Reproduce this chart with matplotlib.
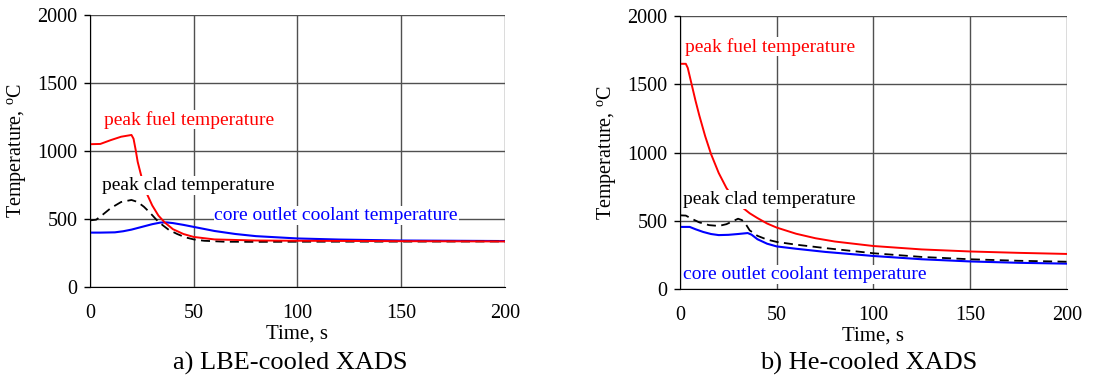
import matplotlib
matplotlib.use('Agg')
import matplotlib.pyplot as plt

plt.rcParams['font.family'] = ['Liberation Serif', 'DejaVu Serif']
plt.rcParams['mathtext.fontset'] = 'custom'
plt.rcParams['mathtext.rm'] = 'Liberation Serif'

# a) LBE-cooled XADS
lbe_t_fuel = [0, 5, 10, 15, 20, 21, 22, 23, 25, 27, 30, 33, 36, 40, 45, 50, 60, 80, 100, 150, 200]
lbe_fuel = [1050, 1052, 1080, 1105, 1118, 1090, 1010, 920, 800, 700, 600, 525, 475, 425, 390, 368, 350, 342, 340, 337, 335]
lbe_t_clad = [0, 3, 6, 10, 15, 20, 23, 26, 29, 32, 35, 38, 42, 46, 50, 55, 65, 80, 100, 150, 200]
lbe_clad = [490, 495, 530, 580, 625, 640, 625, 590, 545, 495, 455, 420, 390, 365, 350, 340, 333, 332, 333, 334, 335]
lbe_t_cool = [0, 5, 12, 16, 20, 25, 30, 34, 37, 40, 45, 50, 60, 70, 80, 100, 120, 150, 200]
lbe_cool = [400, 400, 402, 410, 422, 442, 462, 474, 475, 470, 457, 442, 412, 390, 374, 357, 349, 342, 338]

# b) He-cooled XADS
he_t_fuel = [0, 3, 4, 6, 8, 10, 13, 16, 20, 24, 28, 32, 36, 40, 45, 50, 60, 70, 80, 100, 125, 150, 175, 200]
he_fuel = [1650, 1650, 1620, 1500, 1380, 1270, 1120, 990, 850, 740, 660, 600, 555, 520, 480, 450, 405, 372, 348, 315, 290, 275, 265, 257]
he_t_clad = [0, 3, 6, 10, 15, 20, 24, 27, 30, 32, 34, 36, 40, 45, 50, 60, 75, 100, 125, 150, 175, 200]
he_clad = [540, 538, 515, 488, 468, 462, 475, 495, 515, 505, 475, 430, 390, 362, 345, 325, 300, 262, 235, 218, 207, 200]
he_t_cool = [0, 5, 8, 12, 16, 20, 25, 30, 35, 37, 40, 45, 50, 60, 75, 100, 125, 150, 175, 200]
he_cool = [455, 455, 438, 418, 403, 395, 397, 403, 410, 398, 365, 332, 312, 295, 272, 242, 218, 202, 192, 186]

xticks = [0, 50, 100, 150, 200]
yticks = [0, 500, 1000, 1500, 2000]

fig = plt.figure(figsize=(11.19, 3.78), dpi=100)
ax1 = fig.add_axes([0.0804, 0.2407, 0.3709, 0.7196])
ax2 = fig.add_axes([0.6077, 0.2354, 0.3458, 0.7222])

box = dict(facecolor='white', edgecolor='none', pad=0.5)
fs = 14

for ax in (ax1, ax2):
    ax.set_xlim(0, 200)
    ax.set_ylim(0, 2000)
    ax.set_xticks(xticks)
    ax.set_yticks(yticks)
    ax.grid(True, color='#505050', linewidth=1.0)
    ax.set_axisbelow(True)
    for s in ('top', 'right'):
        ax.spines[s].set_visible(False)
    ax.tick_params(axis='y', direction='out', length=4, width=1, labelsize=14.5, pad=5)
    ax.tick_params(axis='x', direction='out', length=0, labelsize=14.5, pad=12)
    ax.set_xlabel('Time, s', fontsize=15, labelpad=1)
    ax.set_ylabel(r'Temperature, $^{\rm o}$C', fontsize=14.5, labelpad=6)

ax1.plot(lbe_t_cool, lbe_cool, color='blue', lw=1.5)
ax1.plot(lbe_t_clad, lbe_clad, color='black', lw=1.3, ls=(0, (5, 3)))
ax1.plot(lbe_t_fuel, lbe_fuel, color='red', lw=1.4)
ax1.text(7, 1230, 'peak fuel temperature', color='red', fontsize=fs, va='center', bbox=box)
ax1.text(6, 745, 'peak clad temperature', color='black', fontsize=fs, va='center', bbox=box)
ax1.text(60, 525, 'core outlet coolant temperature', color='blue', fontsize=fs, va='center', bbox=box)

ax2.plot(he_t_fuel, he_fuel, color='red', lw=1.4)
ax2.plot(he_t_cool, he_cool, color='blue', lw=1.5)
ax2.plot(he_t_clad, he_clad, color='black', lw=1.3, ls=(0, (5, 3)))
ax2.text(2.5, 1775, 'peak fuel temperature', color='red', fontsize=fs, va='center', bbox=box)
ax2.text(1.5, 655, 'peak clad temperature', color='black', fontsize=fs, va='center', bbox=box)
ax2.text(1.5, 105, 'core outlet coolant temperature', color='blue', fontsize=fs, va='center', bbox=box)

fig.text(0.259, 0.022, 'a) LBE-cooled XADS', fontsize=19, ha='center')
fig.text(0.776, 0.022, 'b) He-cooled XADS', fontsize=19, ha='center')

fig.savefig('out.png', dpi=100)
